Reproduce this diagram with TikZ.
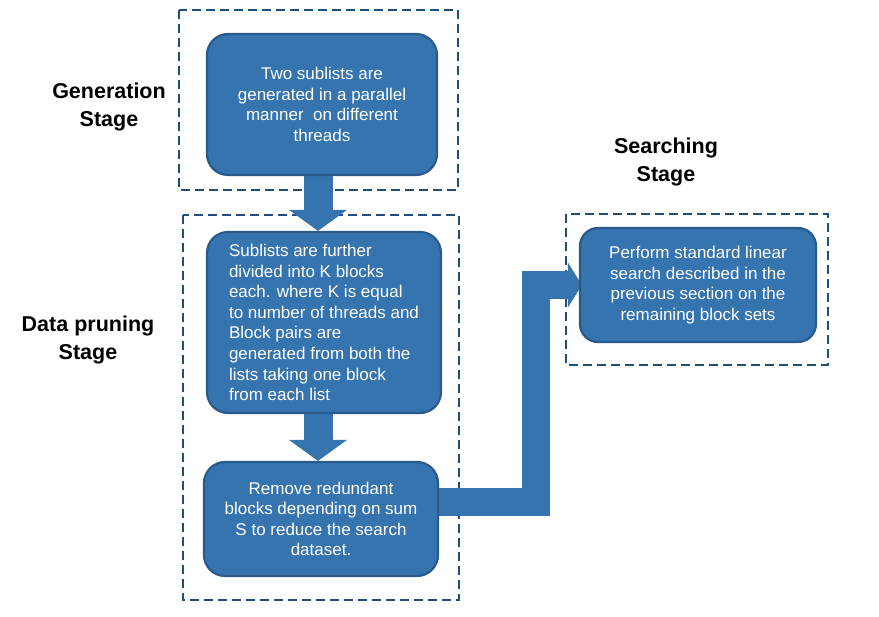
\documentclass[tikz,border=0pt]{standalone}
\usepackage{fontspec}
\setmainfont{Liberation Sans}
\usetikzlibrary{arrows.meta}
\definecolor{boxfill}{HTML}{3674B0}
\definecolor{boxline}{HTML}{2A5A8A}
\definecolor{frameline}{HTML}{1F4E79}
\pgfdeclarelayer{bg}
\pgfdeclarelayer{mid}
\pgfsetlayers{bg,mid,main}
\begin{document}
\begin{tikzpicture}[x=1pt,y=-1pt,
  stepbox/.style={draw=boxline, line width=2.2pt, fill=boxfill, rounded corners=21pt,
    text=white, font=\fontsize{17}{20.6}\selectfont, align=center, inner sep=0pt},
  frame/.style={draw=frameline, line width=2.8pt, dash pattern=on 9pt off 5pt},
  stagelabel/.style={font=\fontsize{21.5}{28}\selectfont\bfseries, align=center},
  blockarrow/.style={draw=boxfill, line width=29pt,
    -{Triangle[width=58pt,length=21pt,line width=0pt]}},
  bentarrow/.style={draw=boxfill, line width=28pt, line join=miter,
    -{Triangle[width=45pt,length=14pt,line width=0pt]}}]
\useasboundingbox (0,0) rectangle (879,617);

% boxes
\node[stepbox, minimum width=230pt, minimum height=141pt] (b1) at (322,104.5)
  {Two sublists are\\generated in a parallel\\manner \ on different\\threads};
\node[stepbox, align=left, minimum width=234pt, minimum height=181pt] (b2) at (324,322.5)
  {Sublists are further\\divided into K blocks\\each. where K is equal\\to number of threads and\\Block pairs are\\generated from both the\\lists taking one block\\from each list};
\node[stepbox, minimum width=234pt, minimum height=114pt] (b3) at (321,519)
  {Remove redundant\\blocks depending on sum\\S to reduce the search\\dataset.};
\node[stepbox, rounded corners=18pt, font=\fontsize{17}{20.6}\selectfont,
  minimum width=236pt, minimum height=114pt] (b4) at (698,285)
  {Perform standard linear\\search described in the\\previous section on the\\remaining block sets};

% stage labels
\node[stagelabel] (l1) at (109,107) {Generation\\Stage};
\node[stagelabel] (l2) at (88,339.5) {Data pruning\\Stage};
\node[stagelabel] (l3) at (666,162) {Searching\\Stage};

% dashed frames
\begin{pgfonlayer}{bg}
\draw[frame] (179,10) rectangle (458,190);
\draw[frame] (183,215) rectangle (459,600);
\draw[frame] (566,214) rectangle (828,365);
\end{pgfonlayer}

% arrows
\coordinate (bend) at (536,285);
\begin{pgfonlayer}{mid}
\draw[blockarrow] ([xshift=-4pt,yshift=5pt]b1.south) -- ([xshift=-4pt]b1.south |- b2.north);
\draw[blockarrow] ([xshift=-6pt,yshift=5pt]b2.south) -- ([xshift=-6pt]b2.south |- b3.north);
\draw[bentarrow] ([xshift=-4pt,yshift=17pt]b3.east) -| (bend) -- ([xshift=3pt]b4.west);
\end{pgfonlayer}
\end{tikzpicture}
\end{document}
